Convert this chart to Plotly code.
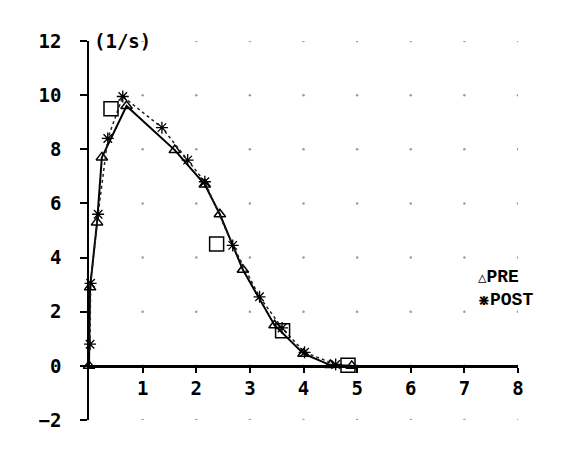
"""Flow-rate curve, PRE vs POST (recreated with Plotly)."""

import itertools
import plotly.graph_objects as go

_FONT = dict(family="DejaVu Sans Mono, monospace", size=19, color="black", weight="bold")
_LEG_FONT = dict(family="Liberation Mono, monospace", size=18, color="black", weight="bold")

# PRE series (triangles)
pre_x = [0, 0.02, 0.15, 0.24, 0.7, 1.6, 2.16, 2.44, 2.87, 3.46, 4.0, 4.5, 4.9]
pre_y = [0, 2.9, 5.3, 7.7, 9.6, 7.97, 6.7, 5.6, 3.55, 1.5, 0.45, 0.03, 0]

# POST series (asterisks)
post_x = [0.02, 0.03, 0.17, 0.35, 0.63, 1.36, 1.84, 2.16, 2.68, 3.18, 3.6, 4.02, 4.6]
post_y = [0.8, 3.05, 5.6, 8.4, 9.95, 8.8, 7.6, 6.8, 4.45, 2.55, 1.4, 0.5, 0.05]

# square markers
sq_x = [0.41, 2.38, 3.61, 4.83]
sq_y = [9.5, 4.5, 1.3, 0.02]

x_ticks = [1, 2, 3, 4, 5, 6, 7, 8]
y_ticks = [-2, 0, 2, 4, 6, 8, 10, 12]

fig = go.Figure()

# dotted grid: points at the tick intersections
grid = list(itertools.product(x_ticks, y_ticks))
fig.add_trace(go.Scatter(
    x=[g[0] for g in grid], y=[g[1] for g in grid], mode="markers",
    marker=dict(size=2.5, color="#9a9a9a"), hoverinfo="skip", showlegend=False,
))

fig.add_trace(go.Scatter(
    x=pre_x, y=pre_y, mode="lines+markers", name="PRE",
    line=dict(color="black", width=2),
    marker=dict(symbol="triangle-up-open", size=10, color="black", line=dict(width=1.5)),
    cliponaxis=False, showlegend=False,
))
fig.add_trace(go.Scatter(
    x=post_x, y=post_y, mode="lines+markers", name="POST",
    line=dict(color="#222222", width=1.5, dash="dot"),
    marker=dict(symbol="asterisk-open", size=10, color="black", line=dict(width=1.3)),
    cliponaxis=False, showlegend=False,
))
fig.add_trace(go.Scatter(
    x=sq_x, y=sq_y, mode="markers", name="",
    marker=dict(symbol="square-open", size=14, color="black", line=dict(width=1.5)),
    cliponaxis=False, showlegend=False,
))

fig.add_annotation(x=0.05, y=12, xref="x", yref="y", text="(1/s)", showarrow=False,
                   xanchor="left", yanchor="middle", font=_FONT)
fig.add_annotation(x=8.2, y=1.03, xref="x", yref="y", text="(1)", showarrow=False,
                   xanchor="center", yanchor="middle", font=_FONT)
fig.add_annotation(
    x=7.22, y=2.84, xref="x", yref="y",
    text="<span style='font-size:14px'>△</span>PRE<br><span style='font-size:14px'>⋇</span>POST",
    showarrow=False, xanchor="left", yanchor="middle", align="left", font=_LEG_FONT,
)

fig.update_layout(
    width=588, height=471,
    margin=dict(l=81, r=78, t=33, b=59),
    plot_bgcolor="white", paper_bgcolor="white",
    font=_FONT,
    xaxis=dict(
        range=[0, 8], tickvals=x_ticks, showgrid=False, zeroline=False,
        showline=True, linecolor="black", linewidth=2.5,
        anchor="free", position=2 / 14,
        ticks="outside", ticklen=5, tickwidth=1.5, tickcolor="black",
        ticklabelstandoff=0,
    ),
    yaxis=dict(
        range=[-2, 12], tickvals=y_ticks, showgrid=False, zeroline=False,
        showline=True, linecolor="black", linewidth=1.5,
        ticks="outside", ticklen=7, tickwidth=1.5, tickcolor="black",
        ticklabelstandoff=15,
    ),
)

fig.write_html("out.html")
